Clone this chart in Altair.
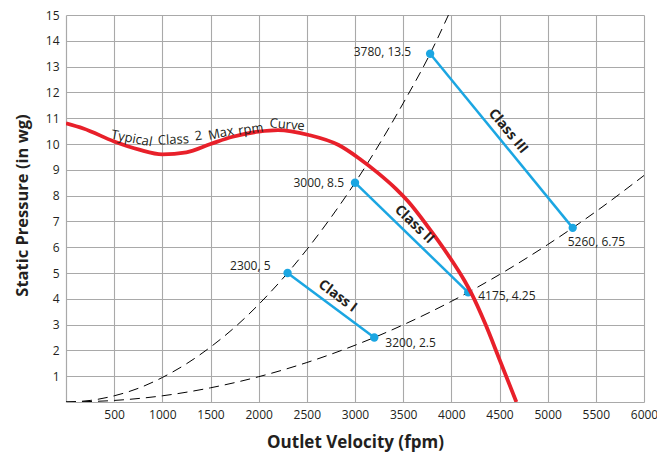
import altair as alt
import pandas as pd

# ---------------- data ----------------
# Typical Class 2 max rpm fan curve (red)
fan_x = [0, 180, 500, 760, 1000, 1250, 1500, 1730, 2000, 2200, 2520, 2830, 3040, 3240, 3420, 3550, 3760, 3970, 4140, 4210, 4350, 4500, 4675]
fan_y = [10.8, 10.6, 10.1, 9.78, 9.6, 9.68, 10.0, 10.28, 10.48, 10.54, 10.35, 9.96, 9.45, 8.87, 8.28, 7.78, 6.78, 5.68, 4.68, 4.2, 3.05, 1.65, 0.0]

# steep system curve (dashed)
sys_hi_x = [0, 250, 500, 750, 1000, 1250, 1500, 1750, 2000, 2300, 2500, 2750, 3000, 3250, 3500, 3780, 3970]
sys_hi_y = [0.0, 0.06, 0.24, 0.53, 0.95, 1.48, 2.13, 2.89, 3.78, 5.0, 5.91, 7.15, 8.5, 9.98, 11.58, 13.5, 15.0]

# flat system curve (dashed)
sys_lo_x = [0, 500, 1000, 1500, 2000, 2500, 3000, 3200, 3500, 4000, 4175, 4500, 5000, 5260, 5500, 6000]
sys_lo_y = [0.0, 0.06, 0.24, 0.55, 0.98, 1.53, 2.2, 2.5, 2.99, 3.9, 4.25, 4.94, 6.1, 6.75, 7.38, 8.78]

# class segments (blue)
class_names = ["Class I", "Class I", "Class II", "Class II", "Class III", "Class III"]
class_x = [2300, 3200, 3000, 4175, 3780, 5260]
class_y = [5, 2.5, 8.5, 4.25, 13.5, 6.75]
point_labels = ["2300, 5", "3200, 2.5", "3000, 8.5", "4175, 4.25", "3780, 13.5", "5260, 6.75"]

# class label anchors (data coords) and curve-label words
class_label_names = ["Class I", "Class II", "Class III"]
class_label_x = [2819, 3614, 4588]
class_label_y = [4.10, 6.88, 10.49]

curve_words = ["Typical", "Class", "2", "Max", "rpm", "Curve"]
curve_word_x = [682, 1115, 1374, 1608, 1918, 2296]
curve_word_y = [10.21, 10.16, 10.31, 10.41, 10.57, 10.74]

x_ticks = [500, 1000, 1500, 2000, 2500, 3000, 3500, 4000, 4500, 5000, 5500, 6000]
y_ticks = list(range(1, 16))

# ---------------- styles ----------------
FONT = "Open Sans"
RED = "#e8202a"
BLUE = "#1ba6e2"
GRID = "#a9a9a9"
TXT = "#231f20"

fan = pd.DataFrame({"x": fan_x, "y": fan_y})
hi = pd.DataFrame({"x": sys_hi_x, "y": sys_hi_y})
lo = pd.DataFrame({"x": sys_lo_x, "y": sys_lo_y})
seg = pd.DataFrame({"cls": class_names, "x": class_x, "y": class_y, "label": point_labels})

xscale = alt.Scale(domain=[0, 6000], nice=False, zero=True)
yscale = alt.Scale(domain=[0, 15], nice=False, zero=True)

x_axis = alt.Axis(values=x_ticks, format="d", grid=True, gridColor=GRID, gridWidth=1.1, gridOpacity=1,
                  ticks=False, domainColor=GRID, domainWidth=1.2, labelFont=FONT, labelFontSize=12,
                  labelColor=TXT, labelPadding=7, labelFlush=False, labelOverlap=False,
                  title="Outlet Velocity (fpm)", titleFont=FONT,
                  titleFontSize=17, titleFontWeight="bold", titleColor=TXT, titleY=40,
                  titleBaseline="middle")
y_axis = alt.Axis(values=y_ticks, format="d", grid=True, gridColor=GRID, gridWidth=1.1, gridOpacity=1,
                  ticks=False, domainColor=GRID, domainWidth=1.2, labelFont=FONT, labelFontSize=12,
                  labelColor=TXT, labelPadding=7, labelFlush=False, labelOverlap=False,
                  title="Static Pressure (in wg)", titleFont=FONT,
                  titleFontSize=16.5, titleFontWeight="bold", titleColor=TXT, titleX=-44, titleY=190,
                  titleBaseline="middle")

def X():
    return alt.X("x:Q", scale=xscale, axis=x_axis)

def Y():
    return alt.Y("y:Q", scale=yscale, axis=y_axis)

hi_line = alt.Chart(hi).mark_line(color="black", strokeWidth=1, strokeDash=[10, 6],
                                  interpolate="monotone", clip=True).encode(x=X(), y=Y())
lo_line = alt.Chart(lo).mark_line(color="black", strokeWidth=1, strokeDash=[10, 6],
                                  interpolate="monotone", clip=True).encode(x=X(), y=Y())

seg_lines = alt.Chart(seg).mark_line(color=BLUE, strokeWidth=2.5).encode(
    x=X(), y=Y(), detail="cls:N")
seg_points = alt.Chart(seg).mark_circle(color=BLUE, size=70, opacity=1).encode(x=X(), y=Y())

fan_line = alt.Chart(fan).mark_line(color=RED, strokeWidth=3.8, interpolate="monotone",
                                    clip=True).encode(x=X(), y=Y())

# point labels: (align, dx, dy) per label
label_style = {
    "2300, 5": ("right", -17, -7),
    "3200, 2.5": ("left", 11, 5),
    "3000, 8.5": ("right", -11, 0),
    "4175, 4.25": ("left", 10, 4),
    "3780, 13.5": ("right", -19, -2),
    "5260, 6.75": ("left", -5, 14),
}
label_layers = []
for lab in point_labels:
    a, dx, dy = label_style[lab]
    d = seg[seg["label"] == lab]
    label_layers.append(
        alt.Chart(d).mark_text(align=a, baseline="middle", dx=dx, dy=dy, font=FONT,
                               fontSize=12, color=TXT).encode(x=X(), y=Y(), text="label:N"))

class_angles = [36.6, 44, 50.5]
cl = pd.DataFrame({"name": class_label_names, "x": class_label_x, "y": class_label_y})
class_layers = []
for i, nm in enumerate(class_label_names):
    class_layers.append(
        alt.Chart(cl[cl["name"] == nm]).mark_text(align="center", baseline="middle",
                                                  angle=class_angles[i], font=FONT, fontSize=14,
                                                  fontWeight="bold", color=TXT)
        .encode(x=X(), y=Y(), text="name:N"))

word_angles = [11, 357, 352, 348, 352, 5]
cw = pd.DataFrame({"w": curve_words, "x": curve_word_x, "y": curve_word_y})
word_layers = []
for i, w in enumerate(curve_words):
    word_layers.append(
        alt.Chart(cw[cw["w"] == w]).mark_text(align="center", baseline="middle",
                                              angle=word_angles[i], font=FONT, fontSize=13,
                                              color=TXT)
        .encode(x=X(), y=Y(), text="w:N"))

chart = alt.layer(hi_line, lo_line, seg_lines, seg_points, fan_line,
                  *label_layers, *class_layers, *word_layers).properties(
    width=578, height=387,
    autosize=alt.AutoSizeParams(type="none"),
    padding={"left": 58, "top": 7, "right": 13, "bottom": 50},
    background="white",
).configure_view(stroke=None)

chart.save("out.html", embed_options={"renderer": "svg", "actions": False})
